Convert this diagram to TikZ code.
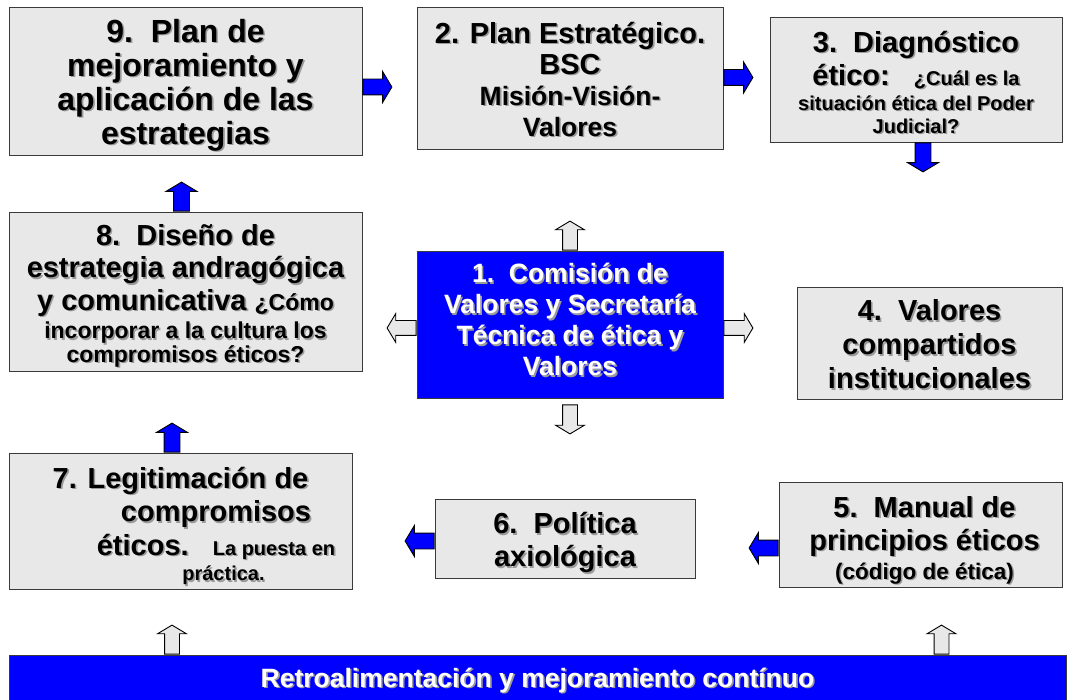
\documentclass[tikz,border=0pt]{standalone}
\usepackage{fontspec}
\setmainfont{Liberation Sans}
\usepackage{xcolor}
\usetikzlibrary{shapes.arrows}
\definecolor{boxgray}{HTML}{E8E8E8}
\definecolor{royal}{HTML}{0000FF}
\definecolor{shade}{HTML}{9A9A9A}
\definecolor{edge}{HTML}{3A3A3A}
\newcommand{\fsz}[2]{\fontsize{#1}{#2}\selectfont}
\newcommand{\shd}[1]{\leavevmode\rlap{\kern1.6pt\raisebox{-1.6pt}{\color{shade}#1}}#1}

\begin{document}
\begin{tikzpicture}[x=1pt, y=-1pt,
  frame/.style={draw=edge, line width=0.9pt, fill=boxgray, inner sep=0pt},
  hubframe/.style={frame, fill=royal},
  txt/.style 2 args={align=center, inner sep=0pt, font=\bfseries\fsz{#1}{#2}},
  hubtxt/.style 2 args={txt={#1}{#2}, text=white},
  blkarrow/.style={single arrow, draw=black, line width=0.9pt, fill=royal, inner xsep=0pt, inner ysep=7.5pt, minimum height=29pt, single arrow head extend=7.5pt, single arrow tip angle=118, anchor=tail},
  openarrow/.style={blkarrow, fill=boxgray, inner ysep=7pt, single arrow head extend=7pt}
]
  \useasboundingbox (0,0) rectangle (1068,700);

  \node[frame, minimum width=353pt, minimum height=148pt] (b9) at (185.5,81) {};
  \node[txt={32}{34}] (t9) at ([yshift=-5pt]b9.center) {\shd{9.\ \ Plan de}\\\shd{mejoramiento y}\\\shd{aplicación de las}\\\shd{estrategias}};

  \node[frame, minimum width=306pt, minimum height=142pt] (b2) at (570,78) {};
  \node[txt={29}{31}] (t2) at ([yshift=-2pt]b2.center) {\shd{2. Plan Estratégico.}\\\shd{BSC}\\\shd{\fsz{26.5}{31}Misión-Visión-}\\\shd{\fsz{26.5}{31}Valores}};

  \node[frame, minimum width=292pt, minimum height=125pt] (b3) at (916,79.5) {};
  \node[txt={29}{33}] (t3) at ([yshift=-3.5pt]b3.center) {\shd{3.\ \ Diagnóstico}\\\shd{ético:\ \ \ {\fsz{20}{22}¿Cuál es la}}\\[-8pt]\shd{\fsz{20}{22}situación ética del Poder}\\[-10pt]\shd{\fsz{20}{22}Judicial?}};

  \node[frame, minimum width=353pt, minimum height=159pt] (b8) at (185.5,291.5) {};
  \node[txt={29}{32.5}] (t8) at ([yshift=-5pt]b8.center) {\shd{8.\ \ Diseño de}\\\shd{estrategia andragógica}\\\shd{y comunicativa {\fsz{23}{25}¿Cómo}}\\[-4pt]\shd{\fsz{23}{25}incorporar a la cultura los}\\[-9pt]\shd{\fsz{23}{25}compromisos éticos?}};

  \node[hubframe, minimum width=306pt, minimum height=147pt] (b1) at (570,324.5) {};
  \node[hubtxt={26.5}{31}] (t1) at ([yshift=4pt]b1.center) {\shd{1.\ \ Comisión de}\\\shd{Valores y Secretaría}\\\shd{Técnica de ética y}\\\shd{Valores}};

  \node[frame, minimum width=265pt, minimum height=112pt] (b4) at (929.5,343) {};
  \node[txt={29}{34}] (t4) at ([yshift=-2pt]b4.center) {\shd{4.\ \ Valores}\\\shd{compartidos}\\\shd{institucionales}};

  \node[frame, minimum width=343pt, minimum height=136pt] (b7) at (180.5,521) {};
  \node[txt={29}{33.5}] (t7) at ([yshift=-5.5pt]b7.center) {\shd{7. Legitimación de}\\\hspace*{71pt}\shd{compromisos}\\\hspace*{71pt}\shd{éticos.\ \ \ {\fsz{20}{22}La puesta en}}\\[-8pt]\hspace*{86pt}\shd{\fsz{20}{22}práctica.}};

  \node[frame, minimum width=260pt, minimum height=79pt] (b6) at (565,538.5) {};
  \node[txt={29}{33}] (t6) at ([yshift=-5pt]b6.center) {\shd{6.\ \ Política}\\\shd{axiológica}};

  \node[frame, minimum width=283pt, minimum height=105pt] (b5) at (920.5,534.5) {};
  \node[txt={29}{33}] (t5) at ([xshift=4pt, yshift=-6.5pt]b5.center) {\shd{5.\ \ Manual de}\\\shd{principios éticos}\\[-4pt]\shd{\fsz{22.5}{25}(código de ética)}};

  \node[hubframe, minimum width=1057pt, minimum height=46pt] (bar) at (537.5,678) {};
  \node[hubtxt={26.5}{31}] (tbar) at ([yshift=-3pt]bar.center) {\shd{Retroalimentación y mejoramiento contínuo}};

  \node[blkarrow] (a92) at (b9.east |- 0,87) {};
  \node[blkarrow] (a23) at (b2.east |- 0,77.5) {};
  \node[blkarrow, rotate=-90] (a34) at (b3.south -| 923,0) {};
  \node[blkarrow, rotate=90] (a89) at (b8.north -| 181.5,0) {};
  \node[blkarrow, rotate=90] (a78) at (b7.north -| 172,0) {};
  \node[blkarrow, rotate=180] (a67) at (b6.west |- 0,541) {};
  \node[blkarrow, rotate=180] (a56) at (b5.west |- 0,548) {};

  \node[openarrow, rotate=90] (o1n) at (b1.north) {};
  \node[openarrow, rotate=-90] (o1s) at ([yshift=-6pt]b1.south) {};
  \node[openarrow, rotate=180] (o1w) at (b1.west |- 0,328) {};
  \node[openarrow] (o1e) at (b1.east |- 0,328) {};
  \node[openarrow, rotate=90] (obl) at (bar.north -| 172,0) {};
  \node[openarrow, rotate=90] (obr) at (bar.north -| 941.5,0) {};
\end{tikzpicture}
\end{document}
